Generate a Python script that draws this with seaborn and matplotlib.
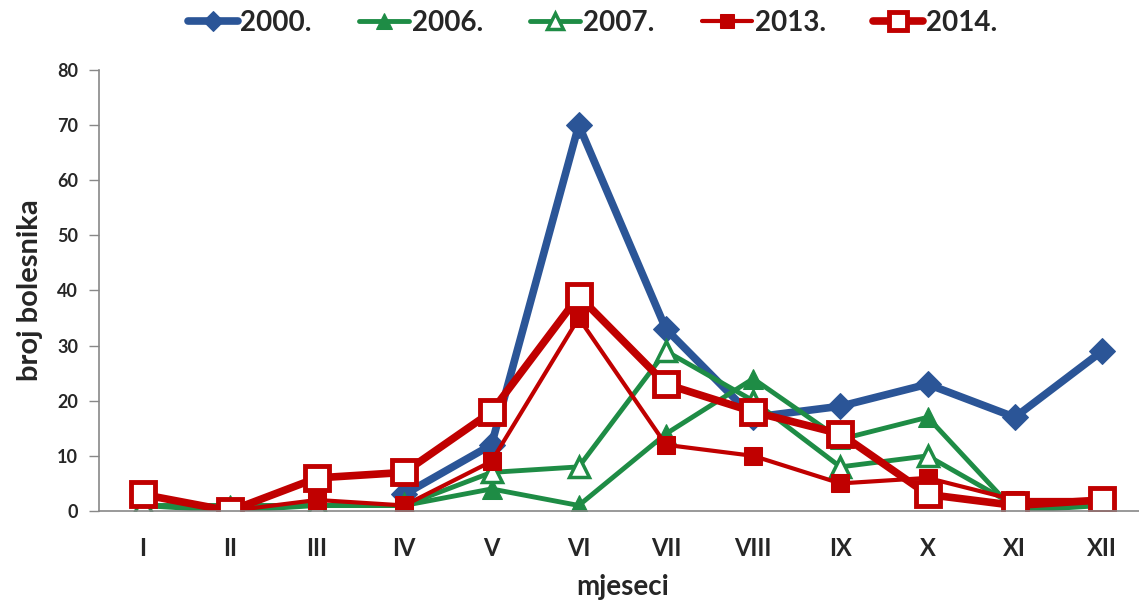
import numpy as np
import pandas as pd
import matplotlib
matplotlib.use("Agg")
import matplotlib.pyplot as plt
import seaborn as sns

# month labels (roman numerals)
months = ["I", "II", "III", "IV", "V", "VI", "VII", "VIII", "IX", "X", "XI", "XII"]

# number of patients per month
y2000 = [np.nan, np.nan, np.nan, 3, 12, 70, 33, 17, 19, 23, 17, 29]
y2006 = [1, 1, 1, 1, 4, 1, 14, 24, 13, 17, 0, 1]
y2007 = [1, 0, 1, 1, 7, 8, 29, 20, 8, 10, 1, 1]
y2013 = [3, 0, 2, 1, 9, 35, 12, 10, 5, 6, 2, 2]
y2014 = [3, 0, 6, 7, 18, 39, 23, 18, 14, 3, 1, 2]

sns.set_style("white")
plt.rcParams['font.family'] = ['Lato', 'DejaVu Sans']
plt.rcParams['font.weight'] = 'bold'

fig = plt.figure(figsize=(11.39, 6.05), dpi=100)
ax = fig.add_axes([0.0869, 0.1554, 0.919, 0.7289])

x = np.arange(len(months))
blue = "#2B5597"
green = "#1E8C45"
red = "#C00000"

# 2000 - thick blue with diamonds
sns.lineplot(x=x, y=y2000, ax=ax, color=blue, linewidth=5.5, marker="D",
             markersize=13, markeredgecolor=blue, label="2000.")
# 2006 - green filled triangles
sns.lineplot(x=x, y=y2006, ax=ax, color=green, linewidth=3.5, marker="^",
             markersize=14, markeredgecolor=green, label="2006.")
# 2007 - green open triangles
sns.lineplot(x=x, y=y2007, ax=ax, color=green, linewidth=3.5, marker="^",
             markersize=14, markerfacecolor="white", markeredgecolor=green,
             markeredgewidth=2.5, label="2007.")
# 2013 - red filled squares
sns.lineplot(x=x, y=y2013, ax=ax, color=red, linewidth=3, marker="s",
             markersize=13, markeredgecolor=red, label="2013.")
# 2014 - thick red open squares
sns.lineplot(x=x, y=y2014, ax=ax, color=red, linewidth=5.5, marker="s",
             markersize=17, markerfacecolor="white", markeredgecolor=red,
             markeredgewidth=3.5, label="2014.")

ax.set_xlim(-0.5, 11.5)
ax.set_ylim(0, 80)
ax.set_yticks(range(0, 81, 10))
ax.set_xticks(x)
ax.set_xticklabels(months, fontsize=17, fontweight='bold')
for lab in ax.get_yticklabels():
    lab.set_fontsize(13)
    lab.set_fontweight('bold')

ax.tick_params(axis='x', length=0, pad=19)
ax.tick_params(axis='y', length=7, width=1, color="#888888", pad=8, left=True)

sns.despine(ax=ax)
for s in ["left", "bottom"]:
    ax.spines[s].set_color("#888888")
    ax.spines[s].set_linewidth(1.2)

ax.set_xlabel("mjeseci", fontsize=20, fontweight='bold', labelpad=10)
ax.set_ylabel("broj bolesnika", fontsize=21, fontweight='bold', labelpad=10)

handles, labels = ax.get_legend_handles_labels()
ax.get_legend().remove()
fig.legend(handles, labels, loc="center", bbox_to_anchor=(0.52, 0.962), ncol=5,
           frameon=False, handlelength=1.8, handletextpad=0.1, columnspacing=1.7,
           markerscale=0.8, prop={'weight': 'bold', 'size': 20})

fig.savefig("out.png", dpi=100)
